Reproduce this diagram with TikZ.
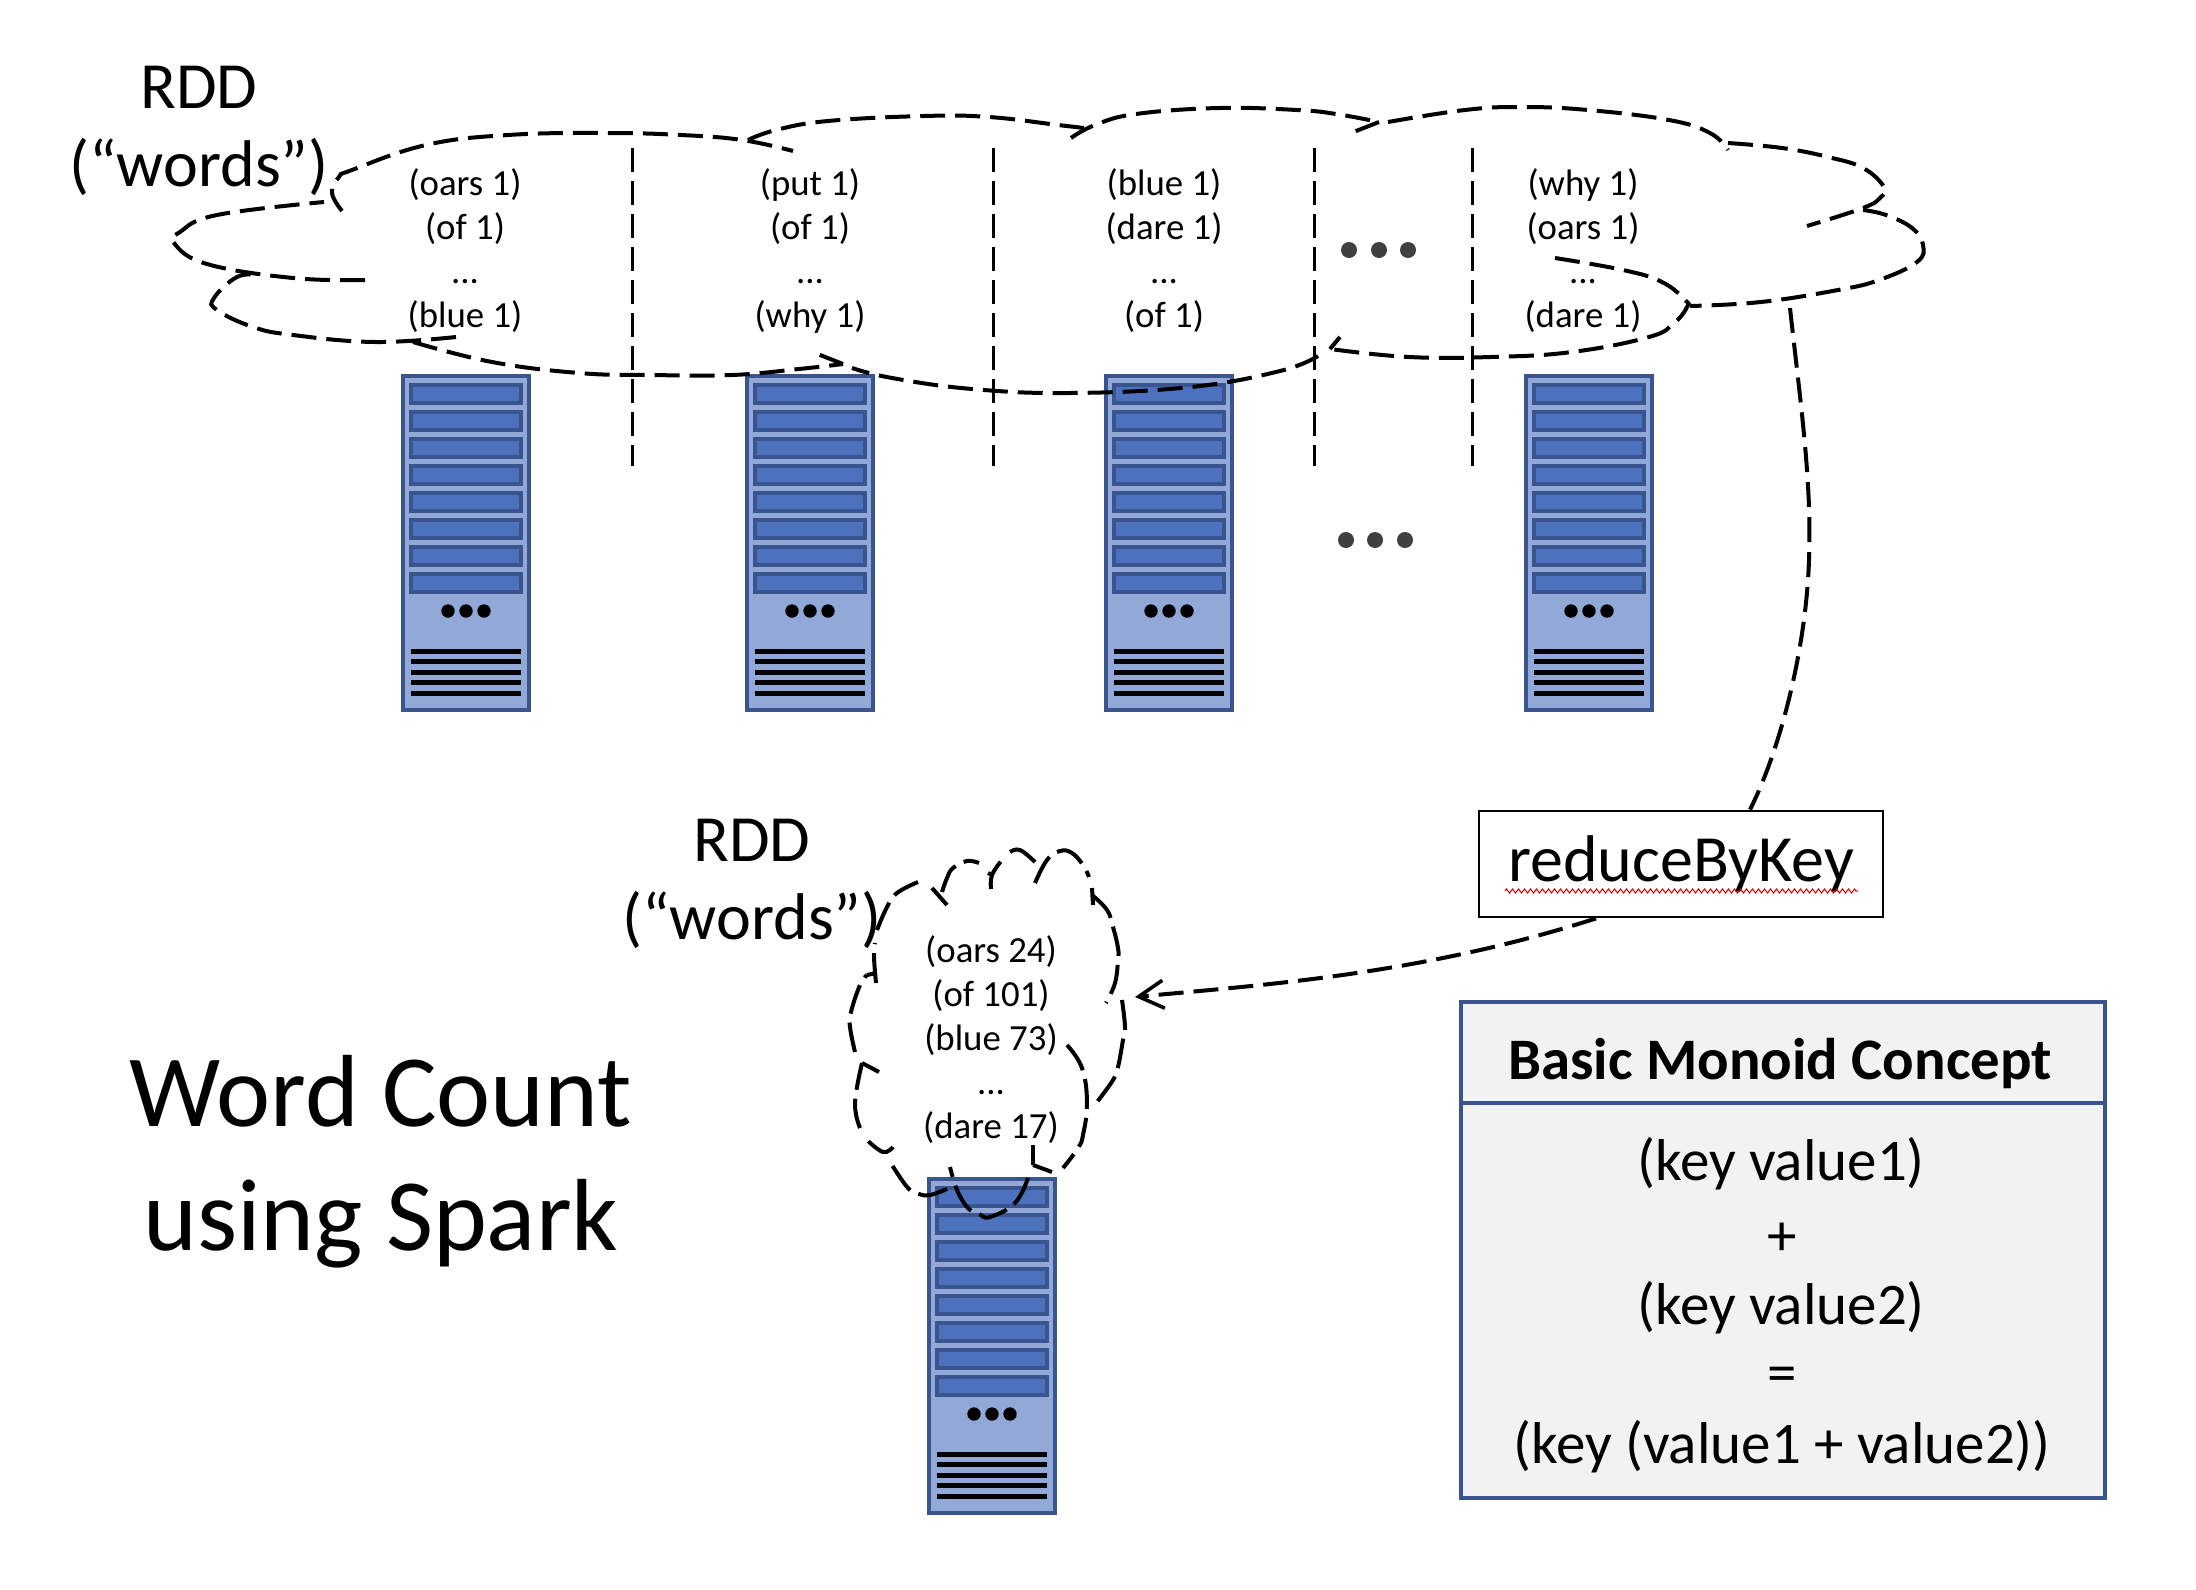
\documentclass[tikz,border=0pt]{standalone}
\usepackage{fontspec}
\setmainfont{Carlito}
\usetikzlibrary{arrows.meta,decorations.pathmorphing}
\definecolor{srvedge}{HTML}{3A5490}
\definecolor{srvfill}{HTML}{92A9D8}
\definecolor{srvbar}{HTML}{4C72BE}
\definecolor{dotgrey}{HTML}{404040}
\newcommand{\fsz}[2]{\fontsize{#1}{#2}\selectfont}
\tikzset{
  cloudline/.style={draw=black,line width=4pt,dash pattern=on 25pt off 10pt,line cap=butt},
  divider/.style={draw=black,line width=3pt,dash pattern=on 24pt off 9pt},
  link/.style={draw=black,line width=4pt,dash pattern=on 25pt off 10pt},
  smalltxt/.style={align=center,font=\fsz{36.8}{44},inner sep=0pt},
  bigtxt/.style={align=center,font=\fsz{66}{78},inner sep=0pt},
  hugetxt/.style={align=center,font=\fsz{102.5}{124},inner sep=0pt},
  bodytxt/.style={font=\fsz{59}{60},inner sep=0pt},
  bigdot/.style={fill=dotgrey,draw=none},
  server/.pic={
    \fill[srvedge] (-65,0) rectangle (65,338);
    \fill[srvfill] (-61,4) rectangle (61,334);
    \foreach \yy in {8.7,35.7,62.7,89.7,116.7,143.7,170.7,197.7}{
      \draw[draw=srvedge,fill=srvbar,line width=4pt] (-55,\yy+2) rectangle (55,\yy+20);
    }
    \foreach \xx in {-18,0,18}{\fill[black] (\xx,237) circle (6.7);}
    \foreach \yy in {277,287,298,308,319}{\fill[black] (-55,\yy-2.5) rectangle (55,\yy+2.5);}
  }
}
\begin{document}
\begin{tikzpicture}[x=1pt,y=-1pt]
\useasboundingbox (0,0) rectangle (2196,1590);
% servers
\path (466,374) pic {server} (810,374) pic {server} (1169,374) pic {server} (1589,374) pic {server} (992,1177) pic {server};
% dividers
\foreach \xx in {632,993,1314,1472}{\draw[divider] (\xx,148) -- (\xx,466);}
% top cloud
\foreach \pts in {
  {(342,211) (332,193) (339,177) (352,170) (426,145) (508,135) (605,133) (681,135) (742,140) (793,151)},
  {(748,140) (776,130) (828,121) (924,116) (989,117) (1058,125) (1084,128)},
  {(1071,138) (1095,125) (1136,114) (1219,108) (1297,110) (1336,114) (1379,122)},
  {(1379,122) (1351,133)},
  {(1388,122) (1465,110) (1521,107) (1588,110) (1669,120) (1710,133) (1728,150)},
  {(1728,143) (1782,148) (1828,157) (1863,168) (1884,187) (1881,197) (1863,208) (1807,226)},
  {(1863,210) (1886,215) (1912,228) (1923,245) (1917,262) (1879,280) (1838,290) (1761,302) (1690,306)},
  {(1555,258) (1623,270) (1662,282) (1685,300) (1687,307) (1674,323) (1649,337) (1572,352) (1491,357) (1409,357) (1330,349)},
  {(1330,349) (1340,337)},
  {(1318,356) (1280,371) (1191,387) (1070,393) (972,389) (892,378) (852,368)},
  {(413,342) (492,362) (579,373) (650,375) (732,375) (799,369) (843,364)},
  {(843,364) (815,353)},
  {(456,337) (375,342) (293,335) (253,327) (217,310) (214,298) (237,277) (258,275)},
  {(365,280) (293,278) (207,264) (174,243) (180,232) (217,215) (324,202)}}{
  \draw[cloudline] plot[smooth,tension=0.7] coordinates \pts;
}
% lower cloud
\foreach \pts in {
  {(877,930) (887,907) (897,893) (918,882)},
  {(947,905) (932,888)},
  {(942,892) (947,878) (953,868) (967,861) (979,863)},
  {(991,889) (992,875) (1002,860)},
  {(988,873) (992,875)},
  {(1010,852) (1020,850) (1035,862)},
  {(1035,883) (1047,860) (1060,851) (1072,853) (1083,865) (1089,877)},
  {(1092,888) (1093,905)},
  {(1092,895) (1107,910) (1113,927) (1118,948) (1118,960) (1115,983) (1106,1003)},
  {(1122,1000) (1125,1027) (1123,1040) (1118,1067) (1113,1080) (1097,1102)},
  {(1067,1045) (1082,1068) (1087,1103) (1083,1135) (1078,1148) (1063,1168)},
  {(1052,1172) (1033,1165)},
  {(1033,1165) (1033,1145)},
  {(1028,1178) (1015,1203) (990,1217) (979,1214) (968,1208) (957,1190) (950,1167)},
  {(947,1189) (930,1195) (919,1194) (908,1188) (892,1165)},
  {(893,1147) (883,1152) (867,1140)},
  {(860,1128) (855,1103) (862,1063)},
  {(862,1063) (879,1072)},
  {(855,1052) (850,1027) (851,1012) (860,985) (867,975)},
  {(867,975) (876,973)},
  {(876,983) (874,957) (875,943)}}{
  \draw[cloudline,dash pattern=on 30pt off 9pt] plot[smooth,tension=0.7] coordinates \pts;
}
% three-dot ellipses
\foreach \xx in {1349,1379,1408}{\fill[bigdot] (\xx,250) circle (8);}
\foreach \xx in {1346,1375,1405}{\fill[bigdot] (\xx,540) circle (8);}
% column texts
\node[smalltxt] (colA) at (465,251) {(oars 1)\\(of 1)\\...\\(blue 1)};
\node[smalltxt] (colB) at (810,251) {(put 1)\\(of 1)\\...\\(why 1)};
\node[smalltxt] (colC) at (1164,251) {(blue 1)\\(dare 1)\\...\\(of 1)};
\node[smalltxt] (colD) at (1583,251) {(why 1)\\(oars 1)\\...\\(dare 1)};
\node[smalltxt] (colE) at (991,1040) {(oars 24)\\(of 101)\\(blue 73)\\...\\(dare 17)};
% labels
\node[bigtxt] (rddA) at (199,131) {RDD\\(“words”)};
\node[bigtxt] (rddB) at (752,884) {RDD\\(“words”)};
\node[hugetxt] (title) at (381,1162) {Word Count\\using Spark};
% reduceByKey
\node[draw=black,line width=2.8pt,minimum width=404pt,minimum height=106pt,inner sep=0pt,font=\fsz{66}{66}] (reduce) at (1681,864) {\raisebox{-6pt}{reduceByKey}};
\draw[red!80!black,line width=1pt,decorate,decoration={zigzag,amplitude=2pt,segment length=6pt}] ([xshift=-176pt,yshift=-27pt]reduce.center) -- ([xshift=177pt,yshift=-27pt]reduce.center);
% connectors
\coordinate (foot) at (1790,308);
\coordinate (bend) at (1809,560);
\coordinate (tip) at (1135,997);
\draw[link] (foot) .. controls (1800,400) and (1812,480) .. (bend) .. controls (1806,650) and (1780,750) .. ([xshift=69pt]reduce.north);
\draw[link,-{Straight Barb[length=25pt,width=28pt,line width=3.6pt]}] ([xshift=-85pt]reduce.south) .. controls (1420,975) and (1260,985) .. (tip);
% monoid box
\node[draw=srvedge,fill=black!5,line width=4pt,minimum width=644pt,minimum height=496pt,inner sep=0pt] (box) at (1783,1250) {};
\draw[draw=srvedge,line width=4pt] (box.west |- 0,1103) -- (box.east |- 0,1103);
\node[font=\fsz{58.8}{60}\bfseries,inner sep=0pt] (boxhead) at (1780,1063) {Basic Monoid Concept};
\node[bodytxt] (b1) at (1781,1164) {(key value1)};
\node[bodytxt] (b2) at (1782,1239) {+};
\node[bodytxt] (b3) at (1781,1308) {(key value2)};
\node[bodytxt] (b4) at (1782,1380) {=};
\node[bodytxt] (b5) at (1782,1447) {(key (value1 + value2))};
\end{tikzpicture}
\end{document}
